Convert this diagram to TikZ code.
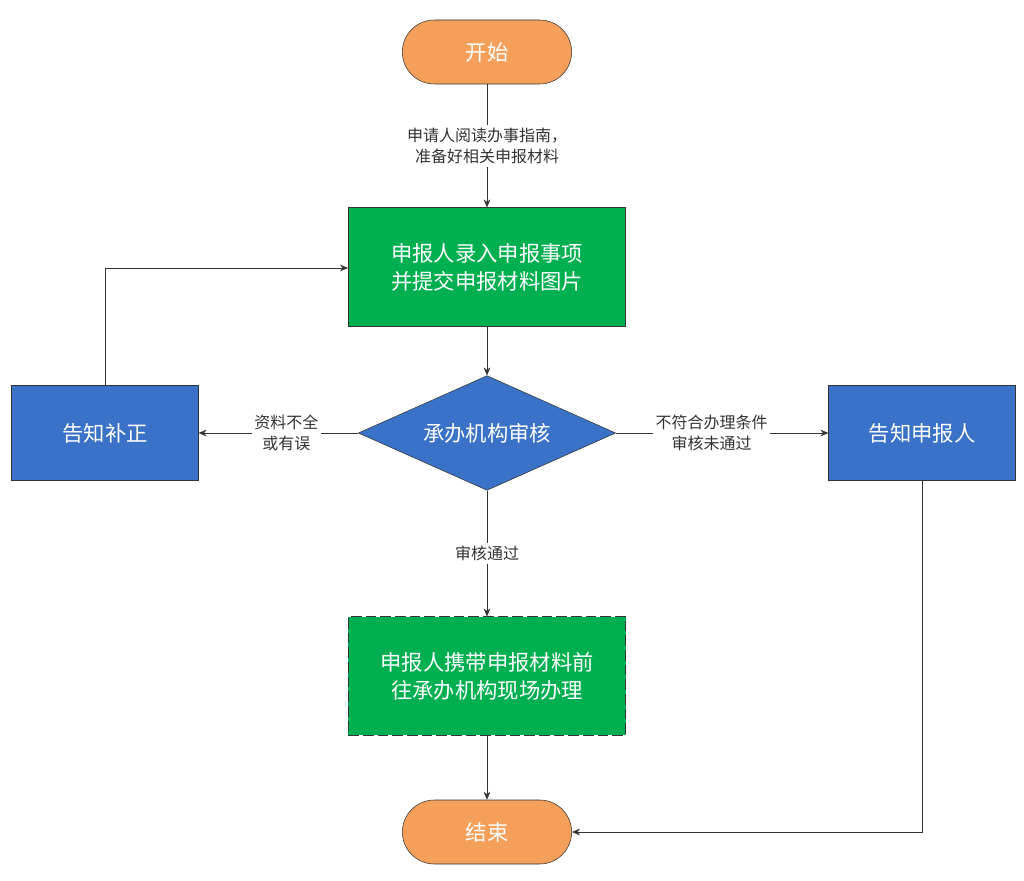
\documentclass[tikz,border=0pt]{standalone}
\usepackage{fontspec}
\newfontfamily\cjk{Noto Sans CJK SC}
\usetikzlibrary{positioning,shapes.geometric,arrows.meta}
\definecolor{startorange}{HTML}{F5A05A}
\definecolor{boxgreen}{HTML}{00B050}
\definecolor{boxblue}{HTML}{3A72C8}
\tikzset{
  term/.style={draw=black!80, fill=startorange, rounded corners=24pt, minimum width=127pt, minimum height=48pt, font=\cjk\fontsize{16}{19}\selectfont, text=white},
  stepgreen/.style={draw=black!80, fill=boxgreen, minimum width=208pt, minimum height=89pt, align=center, font=\cjk\fontsize{16}{21}\selectfont, text=white},
  stepblue/.style={draw=black!80, fill=boxblue, minimum width=140pt, minimum height=71pt, font=\cjk\fontsize{16}{19}\selectfont, text=white},
  check/.style={diamond, aspect=2.2, draw=black!80, fill=boxblue, minimum width=193pt, minimum height=86pt, inner sep=0pt, font=\cjk\fontsize{16}{19}\selectfont, text=white},
  lbl/.style={fill=white, align=center, font=\cjk\fontsize{12}{16}\selectfont, inner sep=2pt},
  flow/.style={-{Stealth[length=6pt,width=5pt]}, black!80}
}
\begin{document}
\begin{tikzpicture}[x=0.75pt,y=-0.75pt]
\useasboundingbox (0,0) rectangle (1024,881);

\node[term] (START) at (487,52) {开始};
\node[stepgreen] (ENTER) at (487,267) {申报人录入申报事项\\并提交申报材料图片};
\node[check] (REVIEW) at (487,433) {承办机构审核};
\node[stepblue] (FIX) at (105,433) {告知补正};
\node[stepblue] (NOTIFY) at (922,433) {告知申报人};
\node[stepgreen, dashed, dash pattern=on 8pt off 3pt] (VISIT) at (487,676) {申报人携带申报材料前\\往承办机构现场办理};
\node[term] (END) at (487,832) {结束};

\coordinate (FIXUP) at (105,268);
\coordinate (NOTIFYDOWN) at (922,832);

\draw[flow] (START) -- node[lbl] {申请人阅读办事指南，\\准备好相关申报材料} (ENTER);
\draw[flow] (ENTER) -- (REVIEW);
\draw[flow] (REVIEW) -- node[lbl, pos=0.45] {资料不全\\或有误} (FIX);
\draw[flow] (REVIEW) -- node[lbl, pos=0.45] {不符合办理条件\\审核未通过} (NOTIFY);
\draw[flow] (REVIEW) -- node[lbl, pos=0.5] {审核通过} (VISIT);
\draw[flow] (VISIT) -- (END);
\draw[flow] (FIX) -- (FIXUP) -- (ENTER.west |- FIXUP);
\draw[flow] (NOTIFY) -- (NOTIFYDOWN) -- (END);

\end{tikzpicture}
\end{document}
